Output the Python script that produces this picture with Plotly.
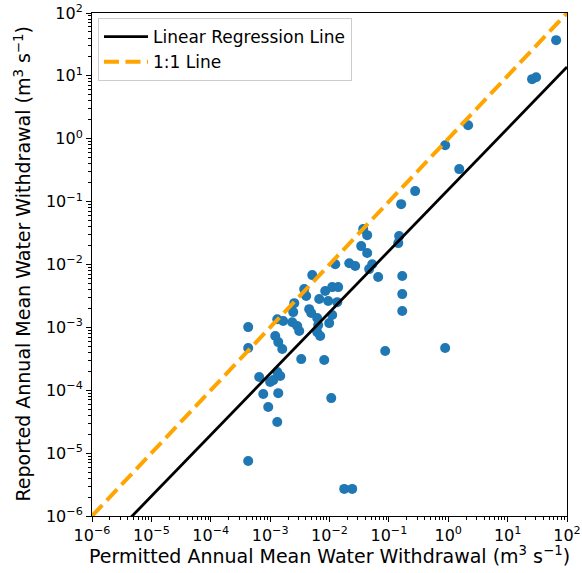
import plotly.graph_objects as go

# Permitted (x) and reported (y) annual mean withdrawals, m3/s
permitted = [65.6, 25.8, 30.2, 2.16, 0.887, 1.53, 0.277, 0.161, 0.149, 0.144,
             0.0369, 0.0431, 0.0342, 0.0431, 0.0524, 0.0465, 0.066, 0.168, 0.168, 0.168,
             0.0867, 0.887, 0.0125, 0.0215, 0.0271, 0.00512, 0.00375, 0.00405, 0.00847, 0.0111,
             0.014, 0.00671, 0.00951, 0.0135, 0.00455, 0.00255, 0.00245, 0.0111, 0.00989, 0.00132,
             0.00166, 0.00236, 0.00286, 0.00309, 0.00621, 0.00646, 0.00621, 0.00697, 0.00492, 0.00334,
             0.00815, 0.00122, 0.00137, 0.0016, 0.000427, 0.000427, 0.000655, 0.00132, 0.00148, 0.001,
             0.00113, 0.000766, 0.00137, 0.000929, 0.00132, 0.0107, 0.000427, 0.0177, 0.0241]
reported = [37.0, 8.87, 9.53, 1.64, 0.79, 0.329, 0.147, 0.0912, 0.0283, 0.0219,
            0.0366, 0.0293, 0.0196, 0.0152, 0.0101, 0.00845, 0.00631, 0.00655, 0.00338, 0.00182,
            0.00042, 0.000469, 0.0101, 0.0105, 0.00944, 0.00678, 0.00406, 0.00315, 0.00378, 0.00437,
            0.00437, 0.00282, 0.00262, 0.00252, 0.00195, 0.00243, 0.00175, 0.00157, 0.00117, 0.00135,
            0.00126, 0.00121, 0.00105, 0.000873, 0.00141, 0.00109, 0.000841, 0.000728, 0.00169, 0.000313,
            0.000302, 0.000728, 0.000583, 0.000452, 0.00101, 0.000469, 0.000162, 0.000195, 0.000168, 0.000135,
            0.000145, 8.7e-5, 9.0e-5, 5.4e-5, 3.12e-5, 7.5e-5, 7.5e-6, 2.7e-6, 2.7e-6]

# Regression in log10 space: log10(y) = intercept + slope * log10(x)
reg_slope = 0.975
reg_intercept = -0.81

tick_exponents = [-6, -5, -4, -3, -2, -1, 0, 1, 2]
tick_labels = ["10<sup>%s</sup>" % (str(e).replace("-", "−")) for e in tick_exponents]
tick_values = [10.0 ** e for e in tick_exponents]
minor_values = [m * 10.0 ** e for e in tick_exponents[:-1] for m in range(2, 10)]

x_title = "Permitted Annual Mean Water Withdrawal (m<sup>3</sup> s<sup>−1</sup>)"
y_title = "Reported Annual Mean Water Withdrawal (m<sup>3</sup> s<sup>−1</sup>)"

axis_range_exp = [tick_exponents[0], tick_exponents[-1]]
line_x = [10.0 ** axis_range_exp[0], 10.0 ** axis_range_exp[1]]
reg_y = [10.0 ** (reg_intercept + reg_slope * e) for e in axis_range_exp]

fig = go.Figure()
fig.add_trace(go.Scatter(x=permitted, y=reported, mode="markers",
                         marker=dict(color="#1f77b4", size=10, line=dict(width=0)),
                         showlegend=False))
fig.add_trace(go.Scatter(x=line_x, y=reg_y, mode="lines", name="Linear Regression Line",
                         line=dict(color="black", width=2.8)))
fig.add_trace(go.Scatter(x=line_x, y=line_x, mode="lines", name="1:1 Line",
                         line=dict(color="#FFA500", width=4, dash="15px,6.5px")))

font = "DejaVu Sans"
axis_common = dict(
    type="log", range=axis_range_exp,
    tickmode="array", tickvals=tick_values, ticktext=tick_labels,
    showline=True, linecolor="black", linewidth=1, mirror=True,
    ticks="outside", ticklen=5, tickwidth=1, tickcolor="black",
    showgrid=False, zeroline=False, automargin=False,
    tickfont=dict(family=font, size=16, color="black"),
    minor=dict(tickmode="array", tickvals=minor_values, ticks="outside", ticklen=3,
               tickwidth=0.7, tickcolor="black", showgrid=False),
)
fig.update_xaxes(**axis_common)
fig.update_yaxes(**axis_common)

fig.add_annotation(text=x_title, xref="paper", yref="paper", x=0.5, y=0,
                   xanchor="center", yanchor="middle", yshift=-39, showarrow=False,
                   borderpad=0, font=dict(family=font, size=19, color="black"))
fig.add_annotation(text=y_title, xref="paper", yref="paper", x=0, y=0.5,
                   xanchor="center", yanchor="middle", xshift=-70, textangle=-90,
                   showarrow=False, borderpad=0, font=dict(family=font, size=19, color="black"))

fig.update_layout(
    width=582, height=573,
    margin=dict(l=92, r=15, t=13, b=57),
    paper_bgcolor="white", plot_bgcolor="white",
    font=dict(family=font, color="black"),
    legend=dict(x=0.0126, y=0.99, xanchor="left", yanchor="top", itemwidth=44,
                bgcolor="rgba(255,255,255,0.8)", bordercolor="#cccccc", borderwidth=1,
                font=dict(family=font, size=17, color="black")),
)
fig.write_html("out.html", config={"displayModeBar": False},
               post_script="document.body.style.margin='0';")
